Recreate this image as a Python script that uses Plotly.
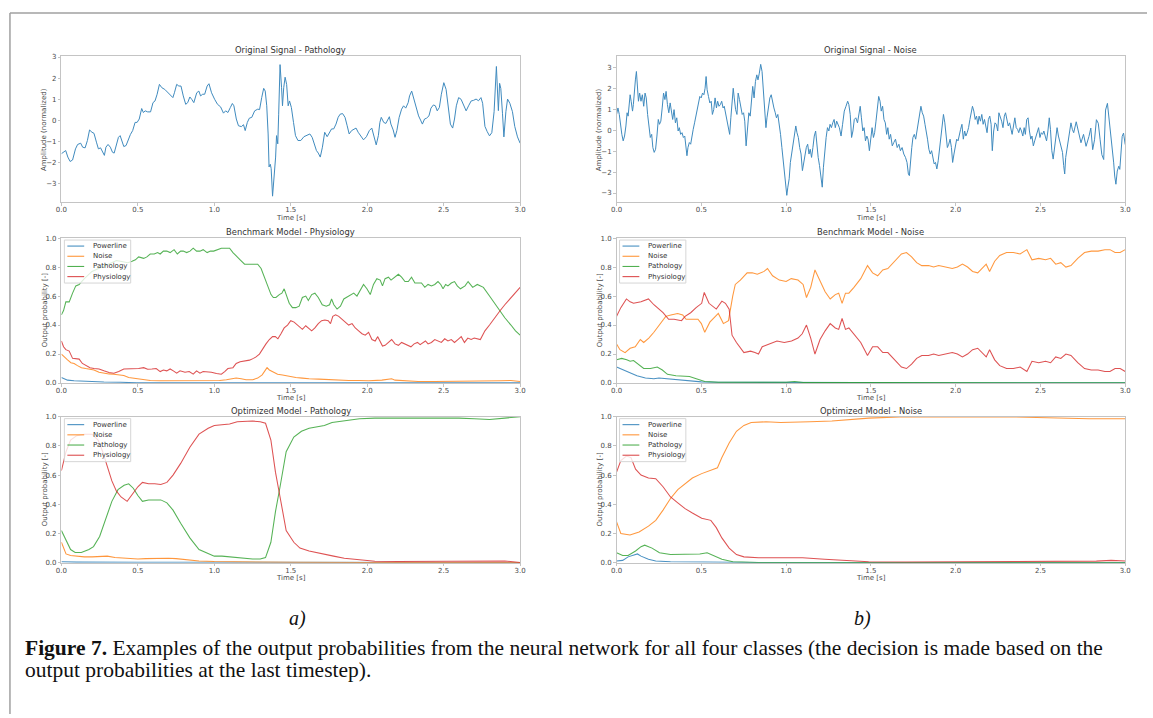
import numpy as np
import plotly.graph_objects as go

# ------------------------------------------------------------------ data
CLASSES = ["Powerline", "Noise", "Pathology", "Physiology"]
COLORS = ["#1f77b4", "#ff7f0e", "#2ca02c", "#d62728"]
X_TICKS = [0.0, 0.5, 1.0, 1.5, 2.0, 2.5, 3.0]
SIG_TICKS = [-3, -2, -1, 0, 1, 2, 3]
P_TICKS = [0.0, 0.2, 0.4, 0.6, 0.8, 1.0]

# (a) original signal, pathology: (time s, amplitude)
sig_path = [(0.000,-1.60),(0.018,-1.50),(0.028,-1.45),(0.042,-1.76),(0.057,-1.97),(0.073,-1.90),(0.092,-1.37),(0.106,-1.16),(0.126,-1.10),(0.139,-1.29),(0.155,-1.32),(0.170,-0.97),(0.184,-0.47),(0.200,-0.58),(0.213,-0.63),(0.229,-1.05),(0.242,-1.37),(0.256,-1.32),(0.268,-1.53),(0.281,-1.68),(0.291,-1.29),(0.305,-1.16),(0.320,-1.29),(0.334,-1.53),(0.345,-1.57),(0.359,-1.21),(0.373,-0.82),(0.384,-0.74),(0.394,-0.97),(0.408,-1.26),(0.423,-1.21),(0.437,-0.90),(0.451,-0.69),(0.466,-0.50),(0.482,-0.11),(0.495,-0.11),(0.509,0.05),(0.525,0.55),(0.536,0.36),(0.548,0.44),(0.564,0.39),(0.583,0.39),(0.599,0.83),(0.612,0.91),(0.626,1.23),(0.641,1.70),(0.657,1.54),(0.676,1.46),(0.696,1.30),(0.715,1.15),(0.729,1.07),(0.739,1.30),(0.754,1.70),(0.768,1.62),(0.782,1.62),(0.797,1.15),(0.813,0.75),(0.826,0.83),(0.840,1.10),(0.852,0.99),(0.866,0.83),(0.885,1.30),(0.899,1.38),(0.910,1.15),(0.924,1.23),(0.937,1.23),(0.953,1.62),(0.965,1.73),(0.982,1.30),(1.002,0.99),(1.021,0.75),(1.041,0.63),(1.060,0.33),(1.074,0.44),(1.089,0.36),(1.105,0.60),(1.118,0.79),(1.128,0.68),(1.144,0.05),(1.158,-0.27),(1.177,-0.31),(1.191,-0.22),(1.202,-0.50),(1.216,-0.11),(1.229,0.09),(1.245,0.13),(1.264,0.44),(1.284,0.52),(1.296,0.50),(1.310,1.07),(1.323,1.51),(1.333,1.38),(1.343,0.68),(1.352,-0.66),(1.358,-2.23),(1.366,-2.10),(1.372,-2.31),(1.381,-3.62),(1.391,-2.86),(1.401,-1.76),(1.407,-0.74),(1.415,-1.13),(1.421,0.28),(1.430,2.64),(1.440,1.54),(1.446,0.68),(1.454,1.54),(1.463,2.04),(1.473,1.70),(1.483,0.68),(1.492,0.91),(1.504,0.60),(1.518,-0.11),(1.531,-0.74),(1.547,-0.97),(1.566,-0.97),(1.586,-0.79),(1.605,-0.74),(1.625,-0.66),(1.640,-0.82),(1.654,-1.16),(1.668,-1.45),(1.680,-1.57),(1.693,-1.76),(1.707,-1.29),(1.722,-0.58),(1.738,-0.79),(1.752,-0.58),(1.767,-0.42),(1.781,-0.42),(1.796,-0.19),(1.810,0.13),(1.823,0.28),(1.839,0.31),(1.855,0.13),(1.869,-0.27),(1.882,-0.66),(1.898,-0.50),(1.913,-0.42),(1.927,-0.38),(1.941,-0.58),(1.956,-0.74),(1.976,-0.94),(1.995,-0.79),(2.014,-0.50),(2.030,-0.38),(2.044,-0.74),(2.059,-1.18),(2.073,-0.74),(2.083,-0.11),(2.092,0.13),(2.108,-0.11),(2.122,-0.16),(2.135,0.00),(2.145,0.16),(2.155,-0.19),(2.170,-0.47),(2.182,-0.82),(2.194,-0.50),(2.209,0.13),(2.225,0.52),(2.238,0.68),(2.252,0.57),(2.268,0.83),(2.277,1.15),(2.291,1.38),(2.307,0.99),(2.322,0.52),(2.336,0.20),(2.349,0.00),(2.361,-0.19),(2.375,0.05),(2.388,0.09),(2.404,0.20),(2.417,0.57),(2.433,0.72),(2.446,0.68),(2.458,0.44),(2.472,0.60),(2.485,1.23),(2.501,1.78),(2.516,1.46),(2.530,0.60),(2.544,-0.19),(2.559,-0.38),(2.571,0.05),(2.583,0.68),(2.598,1.07),(2.614,0.99),(2.629,0.72),(2.647,0.44),(2.663,0.68),(2.680,0.91),(2.696,0.94),(2.712,1.00),(2.728,0.92),(2.744,1.07),(2.755,0.80),(2.770,-0.30),(2.785,-0.55),(2.800,-0.75),(2.815,-0.60),(2.830,0.40),(2.845,2.55),(2.853,1.20),(2.858,0.45),(2.866,1.75),(2.874,1.50),(2.885,0.30),(2.894,-0.80),(2.907,0.40),(2.918,1.00),(2.933,0.80),(2.950,0.40),(2.965,-0.30),(2.983,-0.80),(3.000,-1.10)]

# (b) original signal, noise: (time ms, amplitude)
sig_noise = [(0,0.75),(8,1.06),(16,0.75),(23,0.20),(31,-0.20),(39,-0.51),(47,-0.28),(55,0.20),(62,0.83),(68,0.67),(74,1.22),(80,1.69),(86,1.38),(94,0.91),(99,1.22),(105,2.00),(111,2.40),(117,2.80),(123,2.24),(129,1.38),(136,1.77),(144,1.38),(152,1.69),(160,1.14),(168,1.77),(175,1.54),(183,0.75),(191,0.12),(199,-0.35),(207,-0.20),(214,-0.83),(222,-1.06),(230,-0.91),(238,-0.28),(246,0.51),(253,0.28),(261,0.43),(269,1.06),(277,1.77),(285,1.46),(292,1.85),(300,1.22),(308,0.83),(316,1.30),(324,0.75),(331,0.51),(339,0.98),(347,0.35),(355,0.59),(363,-0.04),(370,0.12),(378,-0.20),(386,-0.12),(394,-0.35),(402,-0.28),(409,-0.67),(415,-1.22),(421,-0.83),(429,-0.59),(437,-0.67),(444,-0.20),(452,0.04),(460,0.35),(468,0.67),(476,1.06),(483,1.38),(491,1.61),(499,1.54),(507,1.77),(515,1.69),(522,2.00),(528,2.56),(534,1.93),(542,1.61),(550,1.30),(558,1.38),(565,0.75),(573,0.98),(581,1.54),(589,1.06),(596,1.38),(604,1.14),(612,1.22),(620,1.38),(628,1.06),(635,1.14),(643,0.83),(651,0.59),(659,0.28),(667,-0.20),(674,0.59),(682,1.54),(688,2.00),(694,1.54),(702,0.98),(710,0.75),(717,1.77),(725,1.46),(733,1.14),(741,0.75),(749,0.83),(756,0.43),(764,-0.75),(772,0.28),(780,0.83),(788,0.67),(795,1.54),(803,2.09),(811,1.54),(819,2.32),(827,2.64),(834,2.40),(842,2.72),(850,3.14),(858,2.80),(866,2.00),(873,1.06),(881,0.12),(887,0.59),(895,0.98),(904,1.54),(912,1.69),(920,1.30),(928,1.06),(936,0.83),(943,0.59),(951,0.75),(959,0.35),(967,-0.20),(975,-0.83),(982,-1.46),(990,-2.09),(998,-2.64),(1004,-3.11),(1010,-2.72),(1018,-2.32),(1025,-1.54),(1033,-1.14),(1041,-0.67),(1049,-0.12),(1057,0.20),(1064,-0.12),(1072,-0.35),(1080,-0.83),(1088,-1.14),(1096,-1.93),(1103,-1.54),(1111,-1.14),(1119,-0.83),(1127,-0.67),(1135,-1.14),(1142,-0.91),(1150,-1.30),(1158,-0.83),(1166,-0.28),(1174,-0.04),(1181,-0.83),(1189,-1.30),(1197,-1.69),(1205,-2.24),(1213,-2.72),(1220,-1.77),(1228,-0.98),(1236,-0.35),(1244,0.12),(1252,-0.04),(1259,0.28),(1267,0.12),(1275,0.35),(1283,0.51),(1290,0.12),(1298,0.43),(1314,0.12),(1324,-0.28),(1333,0.28),(1343,0.91),(1353,1.14),(1363,1.38),(1370,1.22),(1378,0.75),(1386,-0.35),(1394,-0.04),(1402,0.51),(1411,0.59),(1421,0.35),(1429,0.83),(1437,1.14),(1444,0.59),(1452,-0.04),(1460,0.12),(1468,-0.51),(1476,-0.28),(1483,-0.43),(1491,-0.98),(1499,-0.51),(1507,0.12),(1515,-0.35),(1522,-0.12),(1530,0.43),(1538,1.22),(1546,1.61),(1554,1.38),(1561,0.91),(1569,1.14),(1577,0.51),(1585,0.35),(1593,-0.20),(1600,0.12),(1608,-0.43),(1616,-0.20),(1626,-0.75),(1635,-0.59),(1645,-0.43),(1655,-0.83),(1665,-0.67),(1674,-0.98),(1684,-0.83),(1694,-1.14),(1704,-1.30),(1713,-1.54),(1721,-2.09),(1727,-2.17),(1733,-1.46),(1741,-0.83),(1748,-0.35),(1756,-0.20),(1764,-0.43),(1772,0.04),(1780,0.51),(1788,0.75),(1795,1.14),(1803,0.83),(1811,0.67),(1819,0.28),(1827,-0.04),(1834,-0.43),(1842,-0.91),(1850,-1.14),(1858,-0.98),(1866,-1.30),(1873,-1.61),(1881,-1.54),(1889,-1.85),(1897,-1.46),(1904,-0.98),(1912,-0.51),(1920,-0.04),(1928,0.75),(1936,0.35),(1943,-0.20),(1951,-0.83),(1959,-0.67),(1967,-0.43),(1975,-0.83),(1982,-1.54),(1990,-1.14),(1998,-0.67),(2006,-0.43),(2014,-0.51),(2021,-0.20),(2029,0.04),(2037,0.28),(2045,-0.43),(2053,-0.04),(2060,-0.28),(2068,-0.12),(2076,0.12),(2084,0.51),(2092,0.83),(2099,1.14),(2107,0.91),(2115,0.51),(2123,0.67),(2131,0.28),(2138,0.67),(2146,0.43),(2154,0.75),(2162,0.28),(2170,0.51),(2177,0.12),(2185,-0.12),(2193,0.51),(2201,0.67),(2209,0.28),(2216,-0.98),(2224,-0.04),(2232,0.35),(2240,0.28),(2248,-0.04),(2255,0.83),(2263,0.67),(2271,0.43),(2279,0.12),(2287,0.67),(2294,0.83),(2302,0.51),(2310,0.20),(2318,0.35),(2326,0.04),(2333,-0.20),(2341,0.20),(2349,0.59),(2357,0.12),(2365,0.04),(2372,-0.12),(2380,0.12),(2388,-0.04),(2396,-0.28),(2404,0.12),(2411,-0.20),(2419,0.51),(2427,0.59),(2435,-0.04),(2443,-0.43),(2450,-0.28),(2458,-0.75),(2466,-0.51),(2474,-0.28),(2482,0.04),(2489,0.12),(2497,-0.35),(2505,-0.12),(2513,-0.20),(2520,-0.04),(2528,-0.28),(2536,-0.51),(2544,-0.04),(2552,0.59),(2559,0.04),(2567,-0.98),(2575,-1.38),(2583,-0.83),(2591,-0.35),(2598,0.12),(2606,-0.28),(2614,-0.59),(2622,-0.83),(2630,-1.06),(2637,-1.69),(2643,-2.09),(2649,-1.30),(2657,-0.83),(2665,-0.43),(2674,0.12),(2680,0.35),(2688,0.04),(2696,-0.12),(2711,0.40),(2726,-0.06),(2739,-0.60),(2754,-0.20),(2769,-0.77),(2786,-0.30),(2797,0.10),(2808,-0.93),(2819,-0.46),(2830,0.50),(2841,0.33),(2852,-0.46),(2862,-1.17),(2873,-1.40),(2884,0.96),(2895,1.28),(2906,0.49),(2916,-0.30),(2923,-0.60),(2932,-1.56),(2938,-2.19),(2945,-2.58),(2953,-1.95),(2962,-1.72),(2968,-1.87),(2975,-1.09),(2982,-0.30),(2990,-0.14),(3000,-0.69)]

# (a) benchmark model, physiology example: (time s, probability)
bench_a_power = [(0.0,0.038),(0.018,0.029),(0.04,0.02),(0.083,0.016),(0.17,0.011),(0.278,0.007),(0.386,0.005),(0.494,0.002),(1.0,0.002),(1.5,0.002),(2.0,0.002),(2.5,0.002),(3.0,0.002)]
bench_a_noise = [(0.0,0.20),(0.018,0.18),(0.04,0.16),(0.062,0.14),(0.083,0.135),(0.105,0.12),(0.131,0.106),(0.159,0.10),(0.187,0.097),(0.213,0.09),(0.246,0.075),(0.278,0.068),(0.311,0.063),(0.343,0.061),(0.375,0.056),(0.408,0.052),(0.44,0.038),(0.473,0.034),(0.505,0.027),(0.538,0.023),(0.581,0.018),(0.646,0.016),(0.711,0.016),(0.776,0.018),(0.841,0.016),(0.906,0.02),(0.97,0.018),(1.035,0.018),(1.079,0.023),(1.122,0.029),(1.143,0.034),(1.176,0.029),(1.208,0.023),(1.252,0.023),(1.284,0.034),(1.313,0.056),(1.328,0.084),(1.345,0.106),(1.36,0.09),(1.381,0.079),(1.414,0.061),(1.446,0.056),(1.49,0.045),(1.533,0.038),(1.576,0.034),(1.62,0.029),(1.684,0.027),(1.749,0.023),(1.814,0.023),(1.879,0.018),(1.944,0.018),(2.009,0.016),(2.096,0.02),(2.139,0.027),(2.16,0.029),(2.182,0.02),(2.225,0.016),(2.333,0.011),(2.442,0.011),(2.55,0.011),(2.658,0.013),(2.766,0.016),(2.874,0.016),(2.939,0.018),(3.0,0.011)]
bench_a_path = [(0.0,0.47),(0.014,0.50),(0.029,0.56),(0.051,0.56),(0.073,0.62),(0.094,0.67),(0.116,0.68),(0.15,0.72),(0.2,0.77),(0.26,0.80),(0.32,0.83),(0.36,0.845),(0.386,0.84),(0.408,0.835),(0.434,0.83),(0.462,0.84),(0.484,0.85),(0.505,0.87),(0.538,0.86),(0.559,0.87),(0.581,0.89),(0.607,0.89),(0.629,0.90),(0.646,0.89),(0.667,0.91),(0.689,0.91),(0.711,0.90),(0.737,0.92),(0.758,0.89),(0.78,0.91),(0.797,0.91),(0.819,0.90),(0.841,0.91),(0.862,0.93),(0.884,0.91),(0.906,0.91),(0.927,0.92),(0.953,0.90),(0.975,0.91),(0.996,0.91),(1.018,0.92),(1.046,0.93),(1.079,0.93),(1.1,0.93),(1.122,0.90),(1.143,0.88),(1.169,0.85),(1.198,0.82),(1.23,0.82),(1.262,0.82),(1.284,0.82),(1.306,0.79),(1.327,0.73),(1.349,0.67),(1.371,0.61),(1.386,0.59),(1.403,0.59),(1.425,0.61),(1.442,0.62),(1.457,0.65),(1.472,0.61),(1.49,0.55),(1.511,0.52),(1.533,0.52),(1.555,0.53),(1.576,0.59),(1.598,0.60),(1.615,0.57),(1.637,0.61),(1.658,0.62),(1.68,0.59),(1.706,0.54),(1.732,0.53),(1.754,0.54),(1.767,0.58),(1.782,0.54),(1.803,0.51),(1.825,0.53),(1.847,0.58),(1.879,0.60),(1.912,0.62),(1.933,0.60),(1.955,0.64),(1.976,0.68),(1.998,0.65),(2.02,0.61),(2.041,0.68),(2.063,0.72),(2.085,0.71),(2.1,0.67),(2.117,0.72),(2.139,0.73),(2.156,0.71),(2.178,0.73),(2.204,0.75),(2.225,0.73),(2.247,0.70),(2.269,0.70),(2.29,0.73),(2.312,0.69),(2.333,0.69),(2.355,0.69),(2.377,0.66),(2.398,0.68),(2.42,0.67),(2.442,0.68),(2.463,0.70),(2.481,0.68),(2.496,0.65),(2.513,0.68),(2.528,0.67),(2.55,0.69),(2.571,0.70),(2.589,0.67),(2.61,0.65),(2.64,0.67),(2.66,0.70),(2.69,0.66),(2.72,0.68),(2.76,0.66),(2.8,0.60),(2.84,0.54),(2.87,0.49),(2.9,0.45),(2.94,0.40),(2.97,0.36),(3.0,0.33)]
bench_a_phys = [(0.0,0.29),(0.014,0.25),(0.029,0.23),(0.051,0.22),(0.073,0.17),(0.094,0.17),(0.116,0.165),(0.137,0.135),(0.159,0.12),(0.187,0.106),(0.213,0.10),(0.246,0.097),(0.278,0.084),(0.311,0.072),(0.343,0.068),(0.375,0.079),(0.408,0.097),(0.44,0.097),(0.473,0.095),(0.505,0.10),(0.538,0.106),(0.564,0.095),(0.592,0.097),(0.62,0.10),(0.646,0.079),(0.667,0.09),(0.689,0.084),(0.711,0.097),(0.732,0.084),(0.754,0.068),(0.776,0.084),(0.808,0.075),(0.836,0.079),(0.862,0.061),(0.884,0.084),(0.906,0.068),(0.927,0.079),(0.953,0.079),(0.981,0.075),(1.014,0.065),(1.046,0.061),(1.068,0.079),(1.089,0.10),(1.122,0.106),(1.143,0.135),(1.169,0.147),(1.198,0.151),(1.23,0.158),(1.256,0.17),(1.273,0.18),(1.295,0.20),(1.317,0.24),(1.338,0.27),(1.36,0.30),(1.381,0.32),(1.399,0.32),(1.416,0.305),(1.436,0.34),(1.457,0.38),(1.479,0.40),(1.5,0.43),(1.522,0.42),(1.544,0.40),(1.559,0.38),(1.576,0.37),(1.598,0.395),(1.615,0.38),(1.637,0.36),(1.658,0.38),(1.68,0.41),(1.702,0.43),(1.723,0.435),(1.745,0.43),(1.76,0.41),(1.775,0.46),(1.793,0.47),(1.814,0.46),(1.836,0.44),(1.857,0.42),(1.879,0.40),(1.901,0.41),(1.922,0.38),(1.944,0.36),(1.966,0.34),(1.987,0.33),(2.009,0.35),(2.031,0.30),(2.052,0.29),(2.069,0.32),(2.085,0.28),(2.1,0.255),(2.117,0.26),(2.139,0.28),(2.16,0.30),(2.182,0.27),(2.204,0.26),(2.225,0.28),(2.247,0.27),(2.264,0.26),(2.286,0.25),(2.307,0.27),(2.329,0.28),(2.346,0.265),(2.364,0.28),(2.381,0.29),(2.398,0.27),(2.42,0.28),(2.442,0.30),(2.463,0.29),(2.485,0.28),(2.507,0.305),(2.528,0.29),(2.55,0.30),(2.571,0.28),(2.593,0.30),(2.615,0.32),(2.636,0.28),(2.658,0.31),(2.68,0.30),(2.70,0.31),(2.74,0.30),(2.77,0.36),(2.8,0.40),(2.84,0.46),(2.87,0.50),(2.9,0.54),(2.94,0.59),(2.97,0.62),(3.0,0.66)]

# (b) benchmark model, noise example
bench_b_power = [(0.0,0.11),(0.04,0.09),(0.08,0.07),(0.12,0.05),(0.17,0.035),(0.22,0.03),(0.25,0.035),(0.30,0.03),(0.35,0.025),(0.40,0.02),(0.45,0.015),(0.50,0.008),(0.6,0.005),(1.0,0.003),(2.0,0.002),(3.0,0.002)]
bench_b_noise = [(0.0,0.27),(0.02,0.23),(0.05,0.21),(0.08,0.24),(0.11,0.25),(0.14,0.30),(0.16,0.28),(0.19,0.31),(0.22,0.35),(0.26,0.41),(0.29,0.46),(0.32,0.47),(0.36,0.48),(0.39,0.47),(0.41,0.44),(0.45,0.44),(0.48,0.44),(0.50,0.41),(0.52,0.35),(0.55,0.42),(0.58,0.46),(0.60,0.48),(0.63,0.41),(0.66,0.43),(0.685,0.60),(0.70,0.68),(0.73,0.71),(0.77,0.76),(0.80,0.76),(0.83,0.75),(0.87,0.77),(0.89,0.79),(0.92,0.74),(0.96,0.71),(1.0,0.70),(1.03,0.72),(1.07,0.71),(1.10,0.68),(1.12,0.59),(1.145,0.66),(1.17,0.78),(1.20,0.70),(1.23,0.63),(1.26,0.58),(1.29,0.61),(1.31,0.62),(1.33,0.55),(1.35,0.62),(1.37,0.62),(1.40,0.66),(1.44,0.72),(1.48,0.81),(1.51,0.76),(1.54,0.74),(1.57,0.78),(1.60,0.79),(1.64,0.84),(1.68,0.89),(1.71,0.90),(1.74,0.87),(1.77,0.83),(1.80,0.81),(1.84,0.81),(1.87,0.80),(1.90,0.81),(1.94,0.80),(1.98,0.79),(2.01,0.80),(2.04,0.82),(2.07,0.80),(2.10,0.77),(2.13,0.76),(2.16,0.80),(2.18,0.82),(2.20,0.77),(2.23,0.84),(2.26,0.88),(2.30,0.90),(2.34,0.90),(2.38,0.89),(2.42,0.92),(2.45,0.85),(2.49,0.86),(2.53,0.85),(2.56,0.86),(2.59,0.82),(2.62,0.83),(2.65,0.80),(2.68,0.81),(2.72,0.86),(2.76,0.90),(2.80,0.91),(2.84,0.91),(2.88,0.92),(2.91,0.92),(2.94,0.90),(2.97,0.90),(3.0,0.92)]
bench_b_path = [(0.0,0.16),(0.03,0.17),(0.06,0.16),(0.08,0.15),(0.10,0.155),(0.13,0.13),(0.16,0.10),(0.20,0.10),(0.24,0.11),(0.27,0.09),(0.30,0.06),(0.35,0.05),(0.40,0.045),(0.43,0.045),(0.47,0.03),(0.52,0.01),(0.6,0.005),(0.8,0.003),(1.0,0.006),(1.05,0.01),(1.1,0.004),(1.5,0.003),(2.0,0.002),(3.0,0.002)]
bench_b_phys = [(0.0,0.46),(0.025,0.52),(0.058,0.58),(0.08,0.56),(0.10,0.55),(0.144,0.56),(0.188,0.58),(0.22,0.54),(0.274,0.485),(0.307,0.44),(0.339,0.44),(0.383,0.43),(0.404,0.46),(0.437,0.485),(0.469,0.52),(0.502,0.55),(0.517,0.625),(0.545,0.55),(0.588,0.51),(0.621,0.565),(0.642,0.55),(0.664,0.51),(0.681,0.33),(0.707,0.28),(0.751,0.21),(0.79,0.22),(0.816,0.21),(0.837,0.20),(0.859,0.25),(0.902,0.27),(0.946,0.29),(0.989,0.28),(1.032,0.29),(1.07,0.31),(1.095,0.34),(1.12,0.40),(1.145,0.31),(1.17,0.20),(1.20,0.30),(1.23,0.36),(1.26,0.41),(1.29,0.38),(1.31,0.37),(1.33,0.445),(1.35,0.37),(1.37,0.38),(1.40,0.34),(1.44,0.28),(1.48,0.19),(1.51,0.25),(1.54,0.25),(1.57,0.21),(1.60,0.21),(1.64,0.16),(1.68,0.11),(1.71,0.10),(1.74,0.13),(1.77,0.17),(1.80,0.19),(1.84,0.19),(1.87,0.20),(1.90,0.19),(1.94,0.20),(1.98,0.21),(2.01,0.20),(2.04,0.18),(2.07,0.20),(2.10,0.23),(2.13,0.24),(2.16,0.20),(2.18,0.18),(2.20,0.23),(2.23,0.16),(2.26,0.12),(2.30,0.10),(2.34,0.10),(2.38,0.11),(2.42,0.08),(2.45,0.15),(2.49,0.14),(2.53,0.15),(2.56,0.14),(2.59,0.18),(2.62,0.17),(2.65,0.20),(2.68,0.19),(2.72,0.14),(2.76,0.10),(2.80,0.09),(2.84,0.09),(2.88,0.08),(2.91,0.08),(2.94,0.10),(2.97,0.10),(3.0,0.08)]

# (a) optimized model, pathology example
opt_a_power = [(0.0,0.006),(0.1,0.004),(0.5,0.003),(1.0,0.002),(2.0,0.002),(3.0,0.002)]
opt_a_noise = [(0.0,0.14),(0.03,0.06),(0.06,0.05),(0.1,0.045),(0.15,0.04),(0.2,0.04),(0.25,0.045),(0.3,0.045),(0.35,0.035),(0.4,0.032),(0.45,0.03),(0.5,0.025),(0.55,0.028),(0.6,0.03),(0.7,0.03),(0.75,0.028),(0.8,0.022),(0.85,0.015),(0.9,0.012),(1.0,0.008),(1.1,0.006),(1.3,0.004),(1.5,0.003),(2.0,0.002),(3.0,0.002)]
opt_a_path = [(0.0,0.22),(0.03,0.16),(0.06,0.09),(0.09,0.07),(0.13,0.07),(0.18,0.09),(0.21,0.11),(0.25,0.18),(0.29,0.30),(0.33,0.42),(0.37,0.50),(0.41,0.53),(0.44,0.54),(0.47,0.51),(0.5,0.46),(0.53,0.42),(0.57,0.43),(0.61,0.43),(0.65,0.43),(0.69,0.41),(0.73,0.36),(0.78,0.27),(0.84,0.17),(0.9,0.09),(0.96,0.06),(1.0,0.045),(1.05,0.045),(1.1,0.04),(1.15,0.03),(1.2,0.025),(1.25,0.025),(1.3,0.025),(1.335,0.035),(1.37,0.14),(1.4,0.35),(1.43,0.52),(1.47,0.76),(1.52,0.86),(1.57,0.90),(1.62,0.92),(1.67,0.93),(1.72,0.94),(1.77,0.96),(1.85,0.97),(1.95,0.985),(2.05,0.99),(2.2,0.99),(2.4,0.993),(2.6,0.99),(2.7,0.985),(2.8,0.98),(2.9,0.99),(3.0,1.0)]
opt_a_phys = [(0.0,0.63),(0.03,0.76),(0.06,0.84),(0.1,0.87),(0.15,0.88),(0.2,0.88),(0.24,0.84),(0.27,0.76),(0.3,0.66),(0.33,0.56),(0.36,0.49),(0.39,0.45),(0.43,0.42),(0.46,0.46),(0.5,0.52),(0.53,0.55),(0.57,0.54),(0.61,0.54),(0.65,0.535),(0.69,0.55),(0.73,0.60),(0.78,0.68),(0.84,0.79),(0.9,0.88),(0.96,0.92),(1.0,0.94),(1.05,0.945),(1.1,0.95),(1.15,0.965),(1.2,0.97),(1.25,0.97),(1.3,0.965),(1.335,0.955),(1.37,0.84),(1.4,0.62),(1.43,0.45),(1.47,0.22),(1.52,0.14),(1.56,0.10),(1.62,0.08),(1.7,0.065),(1.78,0.045),(1.85,0.03),(1.95,0.02),(2.05,0.01),(2.2,0.008),(2.4,0.01),(2.6,0.012),(2.8,0.015),(2.9,0.012),(3.0,0.002)]

# (b) optimized model, noise example
opt_b_power = [(0.0,0.011),(0.036,0.016),(0.068,0.04),(0.123,0.06),(0.144,0.045),(0.188,0.023),(0.231,0.011),(0.318,0.007),(0.513,0.005),(0.837,0.002),(3.0,0.002)]
opt_b_noise = [(0.0,0.28),(0.025,0.20),(0.079,0.19),(0.133,0.21),(0.188,0.25),(0.231,0.29),(0.274,0.36),(0.318,0.44),(0.361,0.50),(0.404,0.54),(0.447,0.58),(0.502,0.61),(0.595,0.65),(0.621,0.72),(0.664,0.82),(0.707,0.90),(0.751,0.94),(0.794,0.96),(0.881,0.965),(0.967,0.96),(1.054,0.96),(1.14,0.965),(1.27,0.97),(1.379,0.98),(1.487,0.99),(1.704,1.0),(1.92,1.0),(2.354,0.998),(2.787,0.985),(3.0,0.985)]
opt_b_path = [(0.0,0.068),(0.036,0.05),(0.068,0.05),(0.112,0.08),(0.144,0.11),(0.166,0.12),(0.209,0.10),(0.253,0.068),(0.318,0.056),(0.404,0.056),(0.491,0.06),(0.534,0.068),(0.577,0.045),(0.621,0.023),(0.686,0.007),(0.837,0.002),(3.0,0.002)]
opt_b_phys = [(0.0,0.62),(0.025,0.70),(0.058,0.73),(0.085,0.72),(0.112,0.64),(0.144,0.60),(0.188,0.58),(0.231,0.575),(0.274,0.52),(0.318,0.45),(0.361,0.41),(0.404,0.37),(0.447,0.34),(0.502,0.305),(0.556,0.29),(0.588,0.24),(0.621,0.17),(0.664,0.10),(0.707,0.056),(0.751,0.04),(0.837,0.034),(0.967,0.034),(1.097,0.034),(1.227,0.023),(1.357,0.016),(1.487,0.007),(1.704,0.005),(2.137,0.007),(2.57,0.007),(2.83,0.011),(2.917,0.016),(3.0,0.011)]

TITLES = ["Original Signal - Pathology", "Original Signal - Noise",
          "Benchmark Model - Physiology", "Benchmark Model - Noise",
          "Optimized Model - Pathology", "Optimized Model - Noise"]
CAPTION_1 = "<b>Figure 7.</b> Examples of the output probabilities from the neural network for all four classes (the decision is made based on the"
CAPTION_2 = "output probabilities at the last timestep)."

# ------------------------------------------------------------------ layout geometry (pixels)
W, H = 1153, 718
def fx(p):
    return p / W
def fy(p):
    return 1 - p / H

COLS = [(56.0, 519.5), (617.0, 1131.0)]
ROWS = [(53.0, 200.7), (236.7, 383.3), (417.3, 565.0)]
SIG_RANGES = [[-3.92, 3.03], [-3.45, 3.52]]

TICK_FONT = dict(family="DejaVu Sans", size=7, color="#4a4a4a")
SPINE = "#c4c4c4"

fig = go.Figure()

def unzip(pairs, scale=1.0):
    t = [p[0] * scale for p in pairs]
    v = [p[1] for p in pairs]
    return t, v

prob_sets = [
    [bench_a_power, bench_a_noise, bench_a_path, bench_a_phys],
    [bench_b_power, bench_b_noise, bench_b_path, bench_b_phys],
    [opt_a_power, opt_a_noise, opt_a_path, opt_a_phys],
    [opt_b_power, opt_b_noise, opt_b_path, opt_b_phys],
]

annotations = []
shapes = []

for i in range(6):
    r, c = divmod(i, 2)
    n = i + 1
    xs = "" if n == 1 else str(n)
    (l, rr), (top, bot) = COLS[c], ROWS[r]
    xa = dict(domain=[fx(l), fx(rr)], anchor="y" + xs, range=[0, 3],
              tickvals=X_TICKS, ticktext=[f"{v:.1f}" for v in X_TICKS],
              showline=True, mirror=True, linecolor=SPINE, linewidth=1,
              ticks="outside", ticklen=2.5, tickcolor=SPINE, tickfont=TICK_FONT,
              ticklabelstandoff=-2, showgrid=False, zeroline=False)
    if r == 0:
        rng = SIG_RANGES[c]
        ya = dict(range=rng, tickvals=SIG_TICKS,
                  ticktext=[("\u2212" + str(-v)) if v < 0 else str(v) for v in SIG_TICKS])
        ylabel = "Amplitude (normalized)"
    else:
        ya = dict(range=[0, 1], tickvals=P_TICKS, ticktext=[f"{v:.1f}" for v in P_TICKS])
        ylabel = "Output probability [-]"
    ya.update(domain=[fy(bot), fy(top)], anchor="x" + xs, showline=True, mirror=True,
              linecolor=SPINE, linewidth=1, ticks="outside", ticklen=2.5, tickcolor=SPINE,
              tickfont=TICK_FONT, showgrid=False, zeroline=False)
    fig.layout["xaxis" + xs] = xa
    fig.layout["yaxis" + xs] = ya

    annotations.append(dict(text=TITLES[i], xref="paper", yref="paper",
                            x=fx((l + rr) / 2), y=fy(top - 6), xanchor="center", yanchor="middle",
                            showarrow=False, font=dict(family="DejaVu Sans", size=8.4, color="#333333")))
    annotations.append(dict(text="Time [s]", xref="paper", yref="paper",
                            x=fx((l + rr) / 2), y=fy(bot + 15.5), xanchor="center", yanchor="middle",
                            showarrow=False, font=dict(family="DejaVu Sans", size=7, color="#4a4a4a")))
    annotations.append(dict(text=ylabel, xref="paper", yref="paper", textangle=-90,
                            x=fx(l - 17), y=fy((top + bot) / 2), xanchor="center", yanchor="middle",
                            showarrow=False, font=dict(family="DejaVu Sans", size=7, color="#4a4a4a")))

    if r == 0:
        if c == 0:
            t, v = unzip(sig_path)
        else:
            t, v = unzip(sig_noise, 0.001)
        fig.add_trace(go.Scatter(x=t, y=v, mode="lines", xaxis="x" + xs, yaxis="y" + xs,
                                 line=dict(color=COLORS[0], width=1.0), opacity=0.85,
                                 showlegend=False))
    else:
        for k, series in enumerate(prob_sets[i - 2]):
            t, v = unzip(series)
            fig.add_trace(go.Scatter(x=t, y=v, mode="lines", xaxis="x" + xs, yaxis="y" + xs,
                                     name=CLASSES[k], line=dict(color=COLORS[k], width=1.05),
                                     opacity=0.8, showlegend=False))
        shapes.append(dict(type="rect", xref="paper", yref="paper", layer="above",
                           x0=fx(l + 3), x1=fx(l + 70), y0=fy(top + 45.5), y1=fy(top + 2),
                           fillcolor="rgba(255,255,255,0.8)", line=dict(color="#d6d6d6", width=1)))
        for k, name in enumerate(CLASSES):
            yy = top + 8.1 + k * 10.3
            shapes.append(dict(type="line", xref="paper", yref="paper", layer="above",
                               x0=fx(l + 6), x1=fx(l + 23), y0=fy(yy), y1=fy(yy),
                               line=dict(color=COLORS[k], width=1.05), opacity=0.85))
            annotations.append(dict(text=name, xref="paper", yref="paper",
                                    x=fx(l + 29.5), y=fy(yy), xanchor="left", yanchor="middle",
                                    showarrow=False,
                                    font=dict(family="DejaVu Sans", size=7, color="#333333")))

# frame lines of the figure box
shapes.append(dict(type="line", xref="paper", yref="paper", x0=fx(4), x1=1, y0=fy(9), y1=fy(9),
                   line=dict(color="#a0a0a0", width=1.5)))
shapes.append(dict(type="line", xref="paper", yref="paper", x0=fx(4), x1=fx(4), y0=fy(9), y1=0,
                   line=dict(color="#a0a0a0", width=1.5)))

SERIF = "Liberation Serif"
annotations.append(dict(text="<i>a)</i>", xref="paper", yref="paper", x=fx(295), y=fy(621),
                        xanchor="center", yanchor="middle", showarrow=False,
                        font=dict(family=SERIF, size=20, color="#111111")))
annotations.append(dict(text="<i>b)</i>", xref="paper", yref="paper", x=fx(866), y=fy(621),
                        xanchor="center", yanchor="middle", showarrow=False,
                        font=dict(family=SERIF, size=20, color="#111111")))
annotations.append(dict(text=CAPTION_1, xref="paper", yref="paper", x=fx(17), y=fy(651),
                        xanchor="left", yanchor="middle", showarrow=False,
                        font=dict(family=SERIF, size=21.5, color="#111111")))
annotations.append(dict(text=CAPTION_2, xref="paper", yref="paper", x=fx(17), y=fy(674),
                        xanchor="left", yanchor="middle", showarrow=False,
                        font=dict(family=SERIF, size=21.5, color="#111111")))

fig.update_layout(width=W, height=H, autosize=False, margin=dict(l=0, r=0, t=0, b=0),
                  paper_bgcolor="white", plot_bgcolor="white", showlegend=False,
                  annotations=annotations, shapes=shapes)

fig.write_html("out.html", config={"displayModeBar": False},
               post_script="document.body.style.margin='0';document.body.style.overflow='hidden';")
